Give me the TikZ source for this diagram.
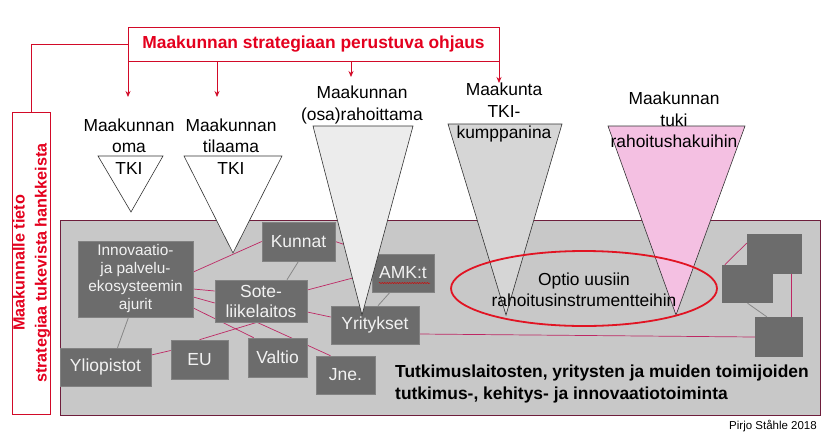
\documentclass[tikz,border=0pt]{standalone}
\usepackage{fontspec}
\setmainfont{Liberation Sans}
\usetikzlibrary{arrows.meta,decorations.pathmorphing,calc}
\pgfdeclarelayer{bg}
\pgfsetlayers{bg,main}
\definecolor{redT}{RGB}{228,0,30}
\definecolor{redL}{RGB}{210,10,40}
\definecolor{conn}{RGB}{190,40,100}
\definecolor{panelF}{RGB}{200,200,200}
\definecolor{panelB}{RGB}{110,30,60}
\definecolor{boxF}{RGB}{108,108,108}
\definecolor{boxT}{RGB}{242,242,242}
\definecolor{grayL}{RGB}{135,135,135}
\definecolor{triA}{RGB}{236,236,236}
\definecolor{triB}{RGB}{214,214,214}
\definecolor{triC}{RGB}{244,192,226}
\definecolor{ellR}{RGB}{225,20,35}
\begin{document}
\begin{tikzpicture}[x=1pt,y=-1pt,
  dbox/.style={fill=boxF, draw=boxF!85!white, line width=0.6pt, text=boxT, inner sep=0pt, align=center, font=\fontsize{17.5}{20}\selectfont},
  rbox/.style={fill=boxF, draw=none, inner sep=0pt},
  cn/.style={draw=conn, line width=0.7pt},
  cg/.style={draw=grayL, line width=0.8pt},
  tri/.style={draw=black!80, line width=0.6pt},
  lab/.style={align=center, inner sep=0pt, font=\fontsize{17.4}{21.5}\selectfont},
  arr/.style={draw=redL, line width=0.8pt, -{Stealth[length=6pt,width=5pt]}},
  redbox/.style={draw=redL, line width=0.8pt, inner sep=0pt},
]
\useasboundingbox (0,0) rectangle (829,440);

% title and left box
\node[redbox, minimum width=371pt, minimum height=34pt, text=redT,
      font=\bfseries\fontsize{17.4}{20}\selectfont] (title) at (313.5,44) {Maakunnan strategiaan perustuva ohjaus};
\node[redbox, minimum width=38pt, minimum height=302pt] (lbox) at (31.5,263) {};
\node[rotate=90, align=center, text=redT, inner sep=0pt,
      font=\bfseries\fontsize{16.2}{22}\selectfont] (ltext) at (lbox.center) {Maakunnalle tieto\\strategiaa tukevista hankkeista};
\draw[draw=redL, line width=0.8pt] (title.west) -| (lbox.north);

\coordinate (t1) at (128,97);
\coordinate (t2) at (217,97);
\coordinate (t3) at (351,77);
\coordinate (t4) at (499,83);
\draw[arr] (t1 |- title.south) -- (t1);
\draw[arr] (t2 |- title.south) -- (t2);
\draw[arr] (t3 |- title.south) -- (t3);
\draw[arr] (t4 |- title.south) -- (t4);

% boxes
\node[dbox, minimum width=115pt, minimum height=76pt, font=\fontsize{15.4}{18}\selectfont] (inn) at (135.5,279) {Innovaatio-\\ja palvelu-\\ekosysteemin\\ajurit};
\node[dbox, minimum width=73pt, minimum height=39pt] (kun) at (298.5,241.5) {Kunnat};
\node[dbox, minimum width=92pt, minimum height=42pt] (sote) at (261,301) {Sote-\\liikelaitos};
\node[dbox, minimum width=88pt, minimum height=38pt] (yri) at (375,325) {Yritykset};
\node[dbox, minimum width=62pt, minimum height=38pt] (amk) at (403,273) {AMK:t};
\node[dbox, minimum width=91pt, minimum height=38pt] (yli) at (105.5,367) {Yliopistot};
\node[dbox, minimum width=57pt, minimum height=39pt] (eu) at (199.5,359.5) {EU};
\node[dbox, minimum width=59pt, minimum height=39pt] (val) at (277.5,357.5) {Valtio};
\node[dbox, minimum width=59pt, minimum height=38pt] (jne) at (345.5,375) {Jne.};
\node[rbox, minimum width=55pt, minimum height=40pt] (r1) at (774.5,254) {};
\node[rbox, minimum width=51pt, minimum height=38pt] (r2) at (747.5,284) {};
\node[rbox, minimum width=48pt, minimum height=40pt] (r3) at (779,337) {};

% panel and connectors, behind the boxes
\begin{pgfonlayer}{bg}
\fill[white] (0,0) rectangle (829,440);
\draw[draw=panelB, fill=panelF, line width=0.8pt] (60,220) rectangle (820,415);
\draw[cn] ([yshift=7pt]inn.east) -- (kun.west);
\draw[cn] ([yshift=-10pt]inn.east) -- ([yshift=10pt]sote.west);
\draw[cn] ([yshift=-18pt]inn.east) -- ([yshift=-2pt]sote.west);
\draw[cn] ([yshift=-29pt]inn.east) -- ([xshift=6pt]val.north west);
\draw[cg] ([xshift=-7pt]inn.south) -- ([xshift=12pt]yli.north);
\draw[cg] (kun.south) -- ([xshift=26pt]sote.north);
\draw[cn] (kun.east) -- (amk.north west);
\draw[cn] ([yshift=11pt]sote.east) -- (amk.west);
\draw[cn] ([yshift=-11pt]sote.east) -- ([yshift=8pt]yri.west);
\draw[cg] ([xshift=-13pt]amk.south) -- ([xshift=3pt]yri.north);
\draw[cn] ([yshift=12pt]yli.east) -- ([yshift=9pt]eu.west);
\draw[cn] (eu.north) -- ([xshift=-4pt]sote.south);
\draw[cn] ([xshift=-4pt]sote.south) -- ([xshift=-15pt]jne.north);
\draw[cn] ([yshift=-9pt]yri.east) -- (r3.west);
\draw[cn] ([xshift=3pt]r2.north west) -- ([yshift=11pt]r1.west);
\draw[cn] ([xshift=16.5pt]r1.south) -- ([xshift=12pt]r3.north);
\draw[cg] (r2.south) -- ([xshift=12pt]r3.north west);
\end{pgfonlayer}

% triangles
\draw[tri, fill=white] (98,156) -- (163,156) -- (131,212) -- cycle;
\draw[tri, fill=white] (184,156) -- (282,156) -- (233,253) -- cycle;
\draw[tri, fill=triA] (313,126) -- (413,126) -- (362,315) -- cycle;
\draw[tri, fill=triB] (448,124) -- (562,124) -- (506,315) -- cycle;
\draw[tri, fill=triC] (608,126) -- (745,126) -- (676,315) -- cycle;

% ellipse
\draw[draw=ellR, line width=1.8pt] (584,288.5) ellipse [x radius=133pt, y radius=37.5pt];
\node[lab] (opt) at (584,290) {Optio uusiin\\rahoitusinstrumentteihin};

% triangle labels
\node[lab] (l1) at (129,146.5) {Maakunnan\\oma\\TKI};
\node[lab] (l2) at (231,146.5) {Maakunnan\\tilaama\\TKI};
\node[lab] (l3) at (362,105) {Maakunnan\\(osa)rahoittama};
\node[lab] (l4) at (504,112.5) {Maakunta\\TKI-\\kumppanina};
\node[lab] (l5) at (674,120) {Maakunnan\\tuki\\rahoitushakuihin};

% AMK spell underline
\draw[draw=red!85!black, line width=0.5pt, decorate, decoration={snake, amplitude=0.5pt, segment length=2.5pt}] ($(amk.center)+(-24,10)$) -- ($(amk.center)+(27,10)$);

% bottom texts
\node[anchor=west, align=left, inner sep=0pt, font=\bfseries\fontsize{17.4}{22}\selectfont] (main) at (395,384) {Tutkimuslaitosten, yritysten ja muiden toimijoiden\\tutkimus-, kehitys- ja innovaatiotoiminta};
\node[anchor=east, inner sep=0pt, font=\fontsize{11.5}{13}\selectfont] (cred) at (817,426) {Pirjo Ståhle 2018};
\end{tikzpicture}
\end{document}
